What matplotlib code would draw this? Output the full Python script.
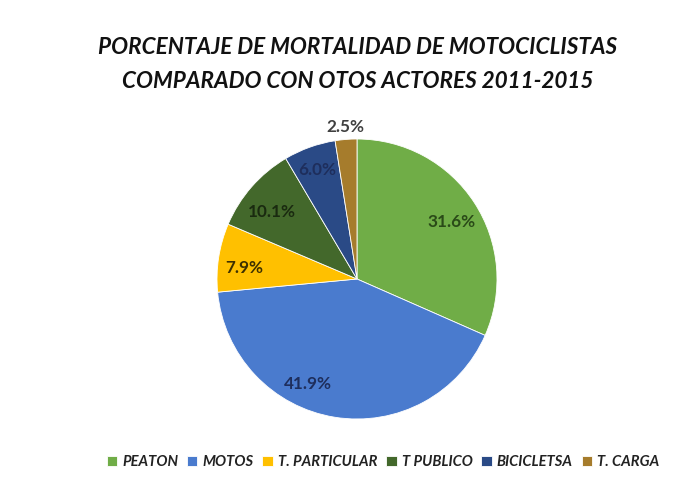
import numpy as np
import matplotlib.pyplot as plt

# data
categorias = ['PEATON', 'MOTOS', 'T. PARTICULAR', 'T PUBLICO', 'BICICLETSA', 'T. CARGA']
porcentajes = [31.6, 41.9, 7.9, 10.1, 6.0, 2.5]
colores = ['#70AD47', '#4A7BCE', '#FFC000', '#43682B', '#2A4A86', '#A67C2C']
col_etiq = ['#2A4A18', '#1E2E5C', '#3D3000', '#1A2A10', '#1E2E5C', '#404040']
# label placement (fraction of radius, angle shift in degrees)
radio_etiq = [0.79, 0.83, 0.81, 0.77, 0.83, 1.09]
giro_etiq = [-2, -16, 3, 3, 0, 0]

fig = plt.figure(figsize=(6.89, 4.78), dpi=100)
W, H = 689, 478
cx, cy, r = 357, 279, 140
ax = fig.add_axes([(cx - r) / W, (H - cy - r) / H, 2 * r / W, 2 * r / H])

wedges, _ = ax.pie(porcentajes, colors=colores, startangle=90, counterclock=False,
                   wedgeprops=dict(edgecolor='white', linewidth=0.6))
ax.set_xlim(-1, 1)
ax.set_ylim(-1, 1)
ax.set_aspect('equal')
ax.axis('off')

fuente = 'Lato'
for w, p, c, rr, g in zip(wedges, porcentajes, col_etiq, radio_etiq, giro_etiq):
    ang = np.deg2rad((w.theta1 + w.theta2) / 2 + g)
    ax.text(rr * np.cos(ang), rr * np.sin(ang), '%.1f%%' % p, ha='center', va='center',
            fontsize=12.3, fontweight='bold', color=c, family=fuente, clip_on=False)

fig.text(358 / W, 1 - 48 / H, 'PORCENTAJE DE MORTALIDAD DE MOTOCICLISTAS',
         ha='center', va='center', fontsize=16.2, fontweight='bold', fontstyle='italic',
         family=fuente, color='#111111')
fig.text(358 / W, 1 - 81 / H, 'COMPARADO CON OTOS ACTORES 2011-2015',
         ha='center', va='center', fontsize=16.2, fontweight='bold', fontstyle='italic',
         family=fuente, color='#111111')

leg = fig.legend(wedges, categorias, loc='center', bbox_to_anchor=(383 / W, 1 - 462 / H),
                 ncol=6, frameon=False, handlelength=0.7, handleheight=0.7,
                 handletextpad=0.35, columnspacing=0.6,
                 prop=dict(family=fuente, weight='bold', style='italic', size=10.6))
for t in leg.get_texts():
    t.set_color('#222222')

fig.savefig('out.png', dpi=100)
